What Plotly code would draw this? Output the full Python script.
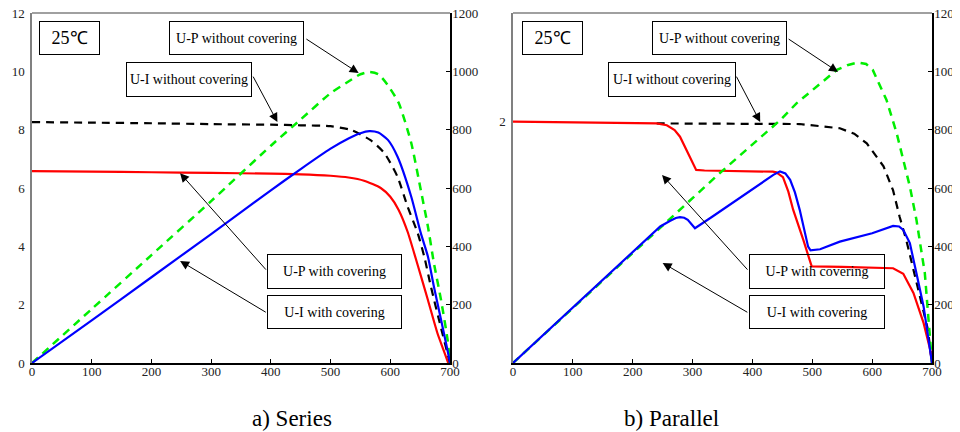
import plotly.graph_objects as go

# ---------------- data: a) Series ----------------
ser_i_nocov_v = [0, 100, 200, 300, 400, 450, 500, 534, 567, 590, 612, 629, 646, 657, 668, 685, 700]
ser_i_nocov = [8.26, 8.24, 8.22, 8.19, 8.17, 8.15, 8.12, 7.99, 7.64, 7.2, 6.39, 5.36, 4.45, 3.64, 2.62, 1.2, 0]

ser_i_cov_v = [0, 100, 200, 300, 400, 450, 500, 530, 556, 584, 600, 614, 629, 646, 663, 679, 690, 697]
ser_i_cov = [6.58, 6.56, 6.54, 6.52, 6.49, 6.47, 6.42, 6.36, 6.25, 6.0, 5.7, 5.25, 4.5, 3.35, 2.16, 1.02, 0.4, 0]

ser_p_cov_v = [0, 100, 200, 300, 400, 450, 500, 530, 550, 565, 580, 596, 612, 635, 651, 663, 673, 685, 698, 700]
ser_p_cov = [0, 146, 294, 442, 592, 665, 735, 770, 788, 795, 790, 765, 708, 571, 446, 365, 262, 148, 22, 0]

ser_p_nocov_v = [0, 100, 200, 300, 400, 450, 500, 530, 550, 565, 580, 595, 614, 635, 651, 663, 673, 685, 696, 700]
ser_p_nocov = [0, 185, 370, 555, 745, 835, 925, 965, 990, 998, 990, 955, 892, 755, 594, 468, 343, 216, 79, 0]

# ---------------- data: b) Parallel ----------------
par_i_cov_v = [0, 100, 200, 240, 257, 270, 279, 290, 298, 306, 320, 400, 434, 440, 451, 460, 468, 485, 499,
               550, 600, 635, 652, 669, 686, 697, 700]
par_i_cov = [2.0, 1.995, 1.99, 1.985, 1.97, 1.93, 1.875, 1.76, 1.68, 1.60, 1.595, 1.59, 1.585, 1.58, 1.54, 1.42,
             1.27, 1.02, 0.80, 0.797, 0.793, 0.785, 0.74, 0.58, 0.33, 0.11, 0]

par_p_cov_v = [0, 100, 200, 246, 262, 272, 279, 286, 292, 298, 304, 334, 390, 435, 446, 455, 463, 471, 479, 486,
               493, 497, 513, 546, 600, 635, 645, 652, 663, 674, 686, 700]
par_p_cov = [0, 190, 380, 468, 487, 497, 500, 498, 491, 478, 462, 503, 580, 645, 657, 650, 628, 585, 525, 465,
             399, 386, 390, 416, 445, 470, 468, 456, 411, 308, 193, 0]

par_i_nocov_v = [240, 413, 479, 546, 570, 591, 619, 635, 646, 657, 670, 685, 693, 700]
par_i_nocov = [1.985, 1.985, 1.98, 1.945, 1.9, 1.82, 1.63, 1.43, 1.21, 1.02, 0.75, 0.45, 0.28, 0]

par_p_nocov_v = [0, 100, 200, 262, 346, 446, 474, 541, 560, 576, 590, 601, 624, 641, 663, 674, 688, 700]
par_p_nocov = [0, 188, 376, 491, 652, 832, 891, 1005, 1022, 1030, 1025, 1005, 902, 788, 605, 491, 308, 0]

x_ticks = [0, 100, 200, 300, 400, 500, 600, 700]

# the page body has an 8px margin, so the figure is 8px smaller and all pixel positions shifted
OFF = 8
W, H = 960 - OFF, 432 - OFF
FONT = "Liberation Serif, Times New Roman, Times, serif"
RED, BLUE, GREEN, BLACK, GRAY = "#ff0000", "#0000ff", "#00ee00", "#000000", "#808080"


def px(x):
    return (x - OFF) / W


def py(y):
    return 1 - (y - OFF) / H


fig = go.Figure()


def line(x, y, xa, ya, color, dash=None, width=2.2, shape="spline"):
    fig.add_trace(go.Scatter(
        x=x, y=y, xaxis=xa, yaxis=ya, mode="lines",
        line=dict(color=color, width=width, dash=dash, shape=shape, smoothing=0.6 if shape == "spline" else None),
        showlegend=False, hoverinfo="skip"))


# series (order: green, red, blue, black)
line(ser_p_nocov_v, ser_p_nocov, "x", "y2", GREEN, dash="8px,6px", width=2.5)
line(ser_i_cov_v, ser_i_cov, "x", "y", RED)
line(ser_p_cov_v, ser_p_cov, "x", "y2", BLUE)
line(ser_i_nocov_v, ser_i_nocov, "x", "y", BLACK, dash="8px,6px", width=2.2)

# parallel (order: green, black, red, blue)
line(par_p_nocov_v, par_p_nocov, "x2", "y4", GREEN, dash="8px,6px", width=2.5, shape="linear")
line(par_i_nocov_v, par_i_nocov, "x2", "y3", BLACK, dash="8px,6px", width=2.2, shape="linear")
line(par_i_cov_v, par_i_cov, "x2", "y3", RED, shape="linear")
line(par_p_cov_v, par_p_cov, "x2", "y4", BLUE, shape="linear")

tickfont = dict(family=FONT, size=13, color="#222")
x1d = [px(32), px(450)]
x2d = [px(513), px(932)]
yd = [py(363), py(13)]

common_x = dict(range=[0, 700], tickvals=x_ticks, ticks="inside", ticklen=4, tickcolor=BLACK,
                showline=True, linecolor=BLACK, linewidth=1.5, showgrid=False, zeroline=False,
                tickfont=tickfont, fixedrange=True, automargin=False, ticklabeloverflow="allow",
                ticklabelstandoff=-4)
common_yl = dict(domain=yd, ticks="", showline=True, linecolor=GRAY, linewidth=1.5, showgrid=False,
                 zeroline=False, tickfont=tickfont, automargin=False, ticklabeloverflow="allow",
                 ticklabelstandoff=3)
common_yr = dict(domain=yd, side="right", range=[0, 1200], dtick=200, ticks="inside", ticklen=4,
                 tickcolor=BLACK, showline=True, linecolor=BLACK, linewidth=1.5, showgrid=False,
                 zeroline=False, tickfont=tickfont, automargin=False, ticklabeloverflow="allow",
                 ticklabelstandoff=-2)

fig.update_layout(
    template="none",
    width=W, height=H, margin=dict(l=0, r=0, t=0, b=0, pad=0, autoexpand=False),
    paper_bgcolor="white", plot_bgcolor="white",
    font=dict(family=FONT, color=BLACK),
    xaxis=dict(domain=x1d, anchor="y", **common_x),
    yaxis=dict(anchor="x", range=[0, 12], dtick=2, **common_yl),
    yaxis2=dict(anchor="x", overlaying="y", **common_yr),
    xaxis2=dict(domain=x2d, anchor="y3", **common_x),
    yaxis3=dict(anchor="x2", range=[0, 2.9], tickvals=[2], **common_yl),
    yaxis4=dict(anchor="x2", overlaying="y3", **common_yr),
)

# top borders (gray)
for xd in (x1d, x2d):
    fig.add_shape(type="line", xref="paper", yref="paper", x0=xd[0], x1=xd[1], y0=yd[1], y1=yd[1],
                  line=dict(color=GRAY, width=1.5))

anns = []


def box(x0, y0, x1, y1, text, size=14):
    anns.append(dict(xref="paper", yref="paper", x=px((x0 + x1) / 2), y=py((y0 + y1) / 2),
                     xanchor="center", yanchor="middle", text=text, showarrow=False,
                     width=x1 - x0 - 2, height=y1 - y0 - 2, borderpad=0, bordercolor=BLACK, borderwidth=1,
                     bgcolor="rgba(0,0,0,0)", font=dict(family=FONT, size=size, color=BLACK)))


def arrow(xref, yref, hx, hy, tx, ty):
    anns.append(dict(xref=xref, yref=yref, x=hx, y=hy, axref=xref, ayref=yref, ax=tx, ay=ty,
                     text="", showarrow=True, arrowhead=2, arrowsize=1.8, arrowwidth=1, arrowcolor=BLACK))


# a) Series
box(39, 21, 100, 55, "25℃", size=18)
box(169, 21, 304, 55, "U-P without covering")
box(126, 62, 252, 97, "U-I without covering")
box(267, 254, 402, 289, "U-P with covering")
box(267, 295, 402, 329, "U-I with covering")
arrow("x", "y2", 547, 994, 457, 1114)
arrow("x", "y2", 411, 826, 369, 987)
arrow("x", "y2", 248, 651, 394, 315)
arrow("x", "y2", 248, 350, 394, 171)

# b) Parallel
box(522, 21, 583, 55, "25℃", size=18)
box(652, 21, 787, 55, "U-P without covering")
box(608, 62, 736, 97, "U-I without covering")
box(749, 254, 885, 289, "U-P with covering")
box(749, 295, 885, 329, "U-I with covering")
arrow("x2", "y4", 543, 998, 458, 1114)
arrow("x2", "y4", 413, 826, 372, 987)
arrow("x2", "y4", 249, 645, 394, 315)
arrow("x2", "y4", 250, 343, 394, 171)

# captions
for cx, t in ((292, "a) Series"), (671, "b) Parallel")):
    anns.append(dict(xref="paper", yref="paper", x=px(cx), y=py(418), xanchor="center", yanchor="middle",
                     text=t, showarrow=False, font=dict(family=FONT, size=23, color=BLACK)))

fig.update_layout(annotations=anns)
fig.write_html("out.html")
